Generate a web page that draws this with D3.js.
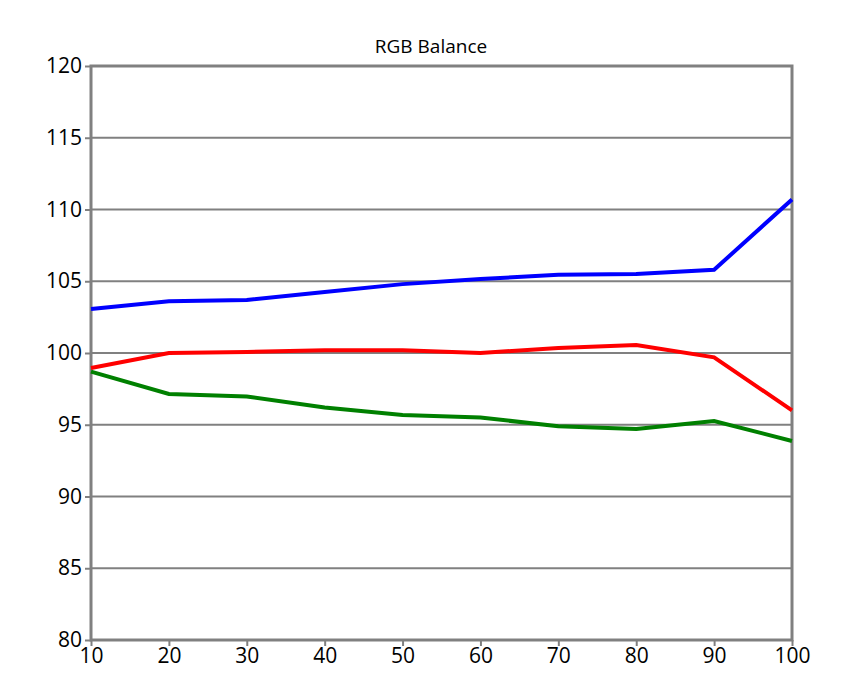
<!DOCTYPE html>
<html><head><meta charset="utf-8">
<script src="https://cdn.jsdelivr.net/npm/d3@7"></script>
<style>body{margin:0;background:#fff}</style></head>
<body><svg id="c" width="841" height="696"></svg>
<script>
const xs=[10,20,30,40,50,60,70,80,90,100];
const blue=[103.07,103.6,103.7,104.25,104.8,105.15,105.45,105.5,105.8,110.7];
const red=[98.95,100.0,100.07,100.2,100.2,100.0,100.35,100.55,99.7,96.0];
const green=[98.7,97.14,96.97,96.2,95.68,95.5,94.9,94.7,95.26,93.87];
const yTicks=[80,85,90,95,100,105,110,115,120];
const svg=d3.select("#c");
const x=d3.scaleLinear().domain([10,100]).range([91,792]);
const y=d3.scaleLinear().domain([80,120]).range([640,66]);
const F="'Open Sans','DejaVu Sans',sans-serif";
svg.append("g").selectAll("line").data(yTicks).join("line")
 .attr("x1",91).attr("x2",792).attr("y1",d=>y(d)).attr("y2",d=>y(d))
 .attr("stroke","#808080").attr("stroke-width",2);
svg.append("rect").attr("x",91).attr("y",66).attr("width",701).attr("height",574)
 .attr("fill","none").attr("stroke","#808080").attr("stroke-width",3);
const ya=svg.append("g").attr("transform","translate(91,0)").call(d3.axisLeft(y).tickValues(yTicks).tickSize(6).tickPadding(3));
const xa=svg.append("g").attr("transform","translate(0,640)").call(d3.axisBottom(x).tickValues(xs).tickSize(6).tickPadding(2));
[ya,xa].forEach(a=>{a.select(".domain").remove();a.selectAll("line").attr("stroke","#808080").attr("stroke-width",2);
 a.selectAll("text").attr("font-family",F).attr("font-size",21).attr("fill","#000");});
const line=d3.line().x((d,i)=>x(xs[i])).y(d=>y(d));
[[blue,"#0000ff"],[red,"#ff0000"],[green,"#008000"]].forEach(([s,c])=>
 svg.append("path").datum(s).attr("d",line).attr("fill","none").attr("stroke",c).attr("stroke-width",4));
svg.append("text").attr("x",431).attr("y",53).attr("text-anchor","middle").attr("font-family",F).attr("font-size",19).text("RGB Balance");
</script></body></html>
